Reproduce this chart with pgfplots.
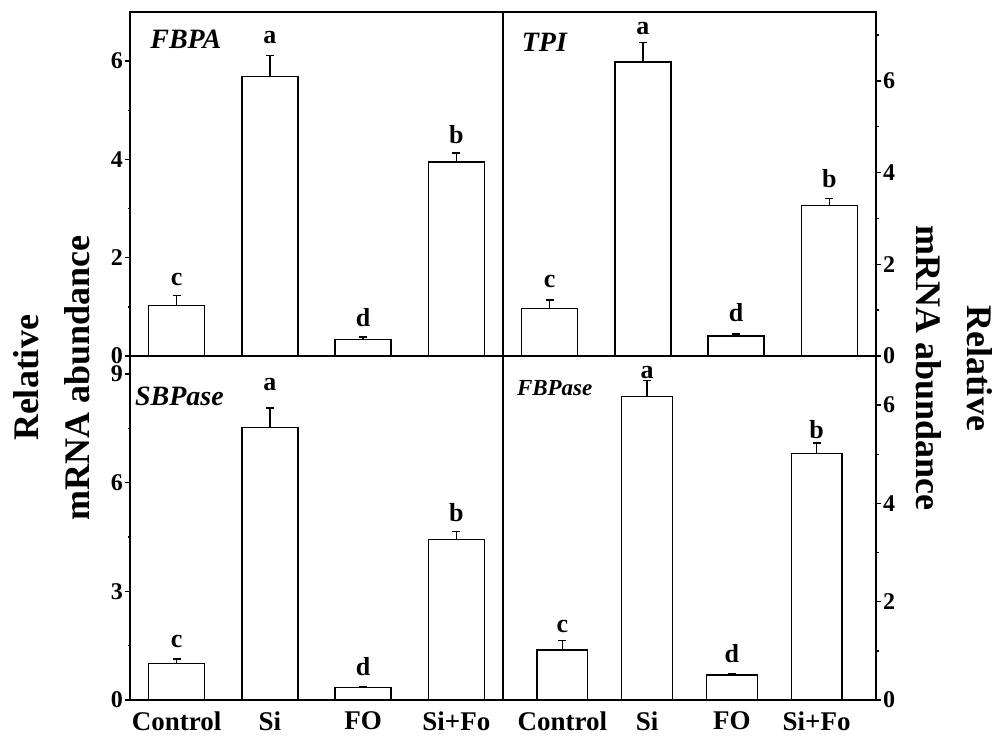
\documentclass[border=0pt]{standalone}
\usepackage{fontspec}
\setmainfont{Liberation Serif}
\usepackage{pgfplots}
\pgfplotsset{compat=1.18}
\tikzset{ttl/.style={anchor=west, inner sep=0pt, font=\fontsize{28}{32}\selectfont\bfseries\itshape}}
\begin{document}
\begin{tikzpicture}
\useasboundingbox (0,0) rectangle (998pt,740pt);
\pgfplotsset{
  panel/.style={
    scale only axis, width=373pt, height=344pt, anchor=south west,
    axis line style={line width=1.8pt},
    every tick/.style={line width=1.5pt, black},
    major tick length=5pt, minor tick length=2.5pt,
    tick align=outside,
    xmin=0.5, xmax=4.5, ymin=0,
    xtick=\empty,
    yticklabel style={font=\fontsize{24}{28}\selectfont\bfseries},
    /pgf/number format/assume math mode=true,
    clip=false,
  },
  leftp/.style={ytick pos=left, yticklabel pos=left, yticklabel style={inner sep=2pt}},
  rightp/.style={ytick pos=right, yticklabel pos=right, yticklabel style={inner sep=2pt}},
  bottomp/.style={xtick={1,2,3,4}, xticklabels={Control,Si,FO,Si+Fo},
    x tick style={draw=none}, xticklabel style={yshift=-3pt, font=\fontsize{27}{31}\selectfont\bfseries}},
  barp/.style={ybar, bar width=0.6, fill=white, draw=black, line width=1.4pt,
    error bars/.cd, y dir=plus, y explicit, error mark=-, error bar style={line width=1.4pt},
    error mark options={rotate=90, mark size=4pt, line width=1.4pt}},
  letp/.style={draw=none, mark=none, nodes near coords, point meta=explicit symbolic,
    nodes near coords style={anchor=base, inner sep=0pt, font=\fontsize{26}{30}\selectfont\bfseries}},
}
% Top left: FBPA
\begin{axis}[panel, leftp, at={(130pt,384pt)}, ymax=7,
  ytick={0,2,4,6}, minor ytick={1,3,5}]
\addplot[barp] coordinates {(1,1.03) +- (0,0.20) (2,5.69) +- (0,0.42) (3,0.34) +- (0,0.05) (4,3.95) +- (0,0.18)};
\addplot[letp] coordinates {(1,1.44)[c] (2,6.36)[a] (3,0.60)[d] (4,4.33)[b]};
\node[ttl] at (rel axis cs:0.054,0.92) {FBPA};
\end{axis}
% Top right: TPI
\begin{axis}[panel, rightp, at={(503pt,384pt)}, ymax=7.5,
  ytick={0,2,4,6}, minor ytick={1,3,5,7}]
\addplot[barp] coordinates {(1,1.03) +- (0,0.19) (2,6.41) +- (0,0.42) (3,0.44) +- (0,0.04) (4,3.28) +- (0,0.16)};
\addplot[letp] coordinates {(1,1.50)[c] (2,7.00)[a] (3,0.75)[d] (4,3.68)[b]};
\node[ttl] at (rel axis cs:0.05,0.913) {TPI};
\end{axis}
% Bottom left: SBPase
\begin{axis}[panel, leftp, bottomp, at={(130pt,40pt)}, ymax=9.5,
  ytick={0,3,6,9}, minor ytick={1.5,4.5,7.5}]
\addplot[barp] coordinates {(1,1.01) +- (0,0.12) (2,7.53) +- (0,0.53) (3,0.34) +- (0,0.03) (4,4.44) +- (0,0.22)};
\addplot[letp] coordinates {(1,1.44)[c] (2,8.56)[a] (3,0.69)[d] (4,4.92)[b]};
\node[ttl] at (rel axis cs:0.013,0.882) {SBPase};
\end{axis}
% Bottom right: FBPase
\begin{axis}[panel, rightp, bottomp, at={(503pt,40pt)}, xmin=0.3, xmax=4.7, ymax=7,
  ytick={0,2,4,6}, minor ytick={1,3,5}]
\addplot[barp] coordinates {(1,1.02) +- (0,0.19) (2,6.17) +- (0,0.33) (3,0.51) +- (0,0.02) (4,5.01) +- (0,0.22)};
\addplot[letp] coordinates {(1,1.37)[c] (2,6.55)[a] (3,0.76)[d] (4,5.33)[b]};
\node[ttl, font=\fontsize{23}{27}\selectfont\bfseries\itshape] at (rel axis cs:0.037,0.907) {FBPase};
\end{axis}
% y labels
\node[rotate=90, anchor=north, align=center, inner sep=0pt,
  font=\fontsize{36}{51}\selectfont\bfseries] at (13pt,362pt) {Relative\\mRNA abundance};
\node[rotate=-90, anchor=north, align=center, inner sep=0pt,
  font=\fontsize{36}{51}\selectfont\bfseries] at (993pt,372pt) {Relative\\mRNA abundance};
\end{tikzpicture}
\end{document}
